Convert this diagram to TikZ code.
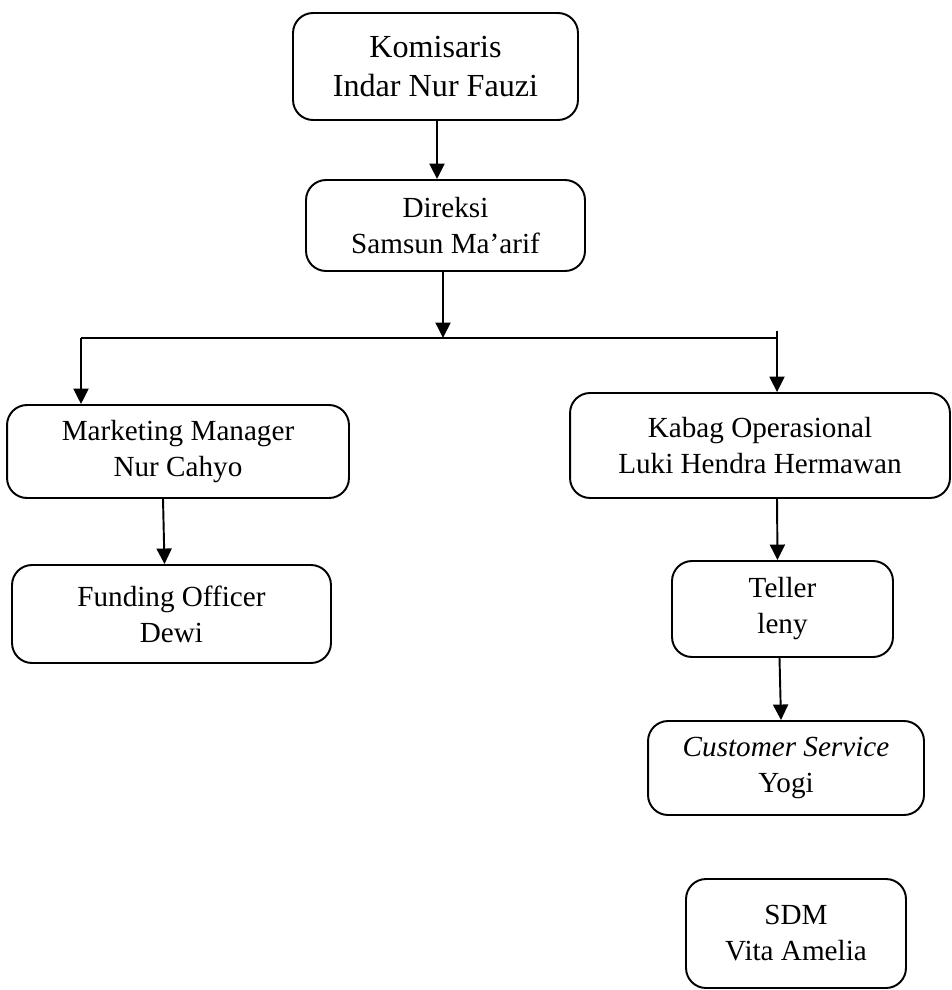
\documentclass[tikz,border=0pt]{standalone}
\usepackage{fontspec}
\setmainfont{Liberation Serif}
\usetikzlibrary{arrows.meta,positioning,calc}

\begin{document}
\begin{tikzpicture}[
  x=0.02cm, y=-0.02cm,
  box/.style={draw,rounded corners=4mm,line width=1.1pt,align=center,
    font=\fontsize{16.6}{20.5}\selectfont,inner sep=0pt},
  bigbox/.style={box,font=\fontsize{18.3}{22}\selectfont},
  link/.style={line width=1.1pt},
  >={Triangle[length=3.1mm,width=3mm]}]
\useasboundingbox (0,0) rectangle (951,990);
\node[bigbox,minimum width=5.7cm,minimum height=2.14cm] (kom) at (435.5,66.5) {Komisaris\\Indar Nur Fauzi};
\node[box,minimum width=5.58cm,minimum height=1.82cm] (dir) at (445.5,225.5) {Direksi\\Samsun Ma'arif};
\node[box,minimum width=6.84cm,minimum height=1.86cm] (mkt) at (178,451.5) {Marketing Manager\\Nur Cahyo};
\node[box,minimum width=7.6cm,minimum height=2.1cm] (ops) at (760,445.5) {Kabag Operasional\\Luki Hendra Hermawan};
\node[box,minimum width=6.38cm,minimum height=1.96cm] (fund) at (171.5,614) {Funding Officer\\Dewi};
\node[box,minimum width=4.42cm,minimum height=1.92cm] (tel) at (782.5,609) {Teller\\leny};
\node[box,minimum width=5.52cm,minimum height=1.88cm] (cs) at (786,768) {\textit{Customer Service}\\Yogi};
\node[box,minimum width=4.4cm,minimum height=2.18cm] (sdm) at (796,933.5) {SDM\\Vita Amelia};
% bus below Direksi
\coordinate (busM) at (443,338);
\coordinate (busL) at (81,338);
\coordinate (busR) at (777,338);
\coordinate (busT) at (777,331);
\coordinate (komD) at (437,0);
\draw[->,link] (kom.south -| komD) -- (dir.north -| komD);
\draw[->,link] (dir.south -| busM) -- (busM);
\draw[link] (busL) -- (busR) -- (busT);
\draw[->,link] (busL) -- (busL |- mkt.north);
\draw[->,link] (busR) -- (busR |- ops.north);
\draw[->,link] ($(mkt.south)+(-15,0)$) -- ($(fund.north)+(-7,0)$);
\draw[->,link] ($(ops.south)+(17,0)$) -- ($(tel.north)+(-5,0)$);
\draw[->,link] ($(tel.south)+(-3,0)$) -- ($(cs.north)+(-5,0)$);
\end{tikzpicture}
\end{document}
